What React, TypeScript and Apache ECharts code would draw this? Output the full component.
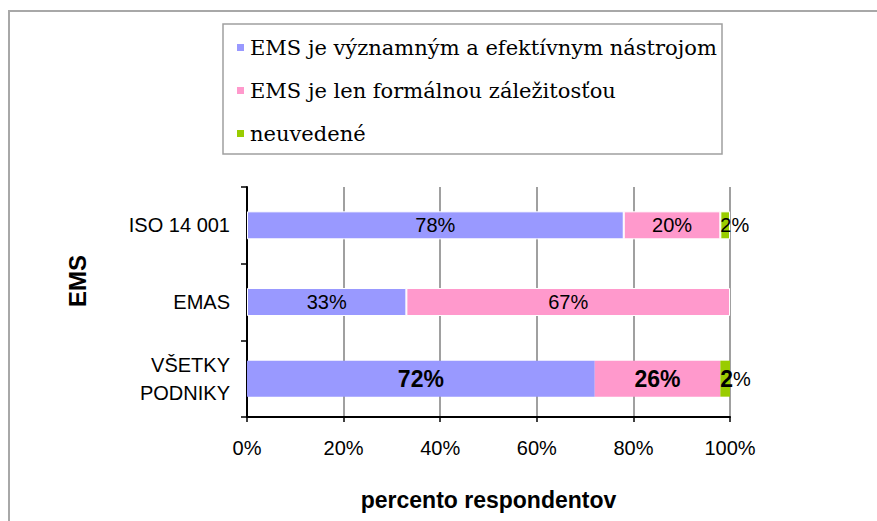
import React, { useEffect, useRef } from 'react';
import * as echarts from 'echarts';

const categories = ['ISO 14 001', 'EMAS', 'VŠETKY\nPODNIKY'];
const seriesNames = [
  'EMS je významným a efektívnym nástrojom',
  'EMS je len formálnou záležitosťou',
  'neuvedené',
];
const effective = [78, 33, 72];
const formal = [20, 67, 26];
const unspecified = [2, 0, 2];
const xTicks = [0, 20, 40, 60, 80, 100];
const axisTitleX = 'percento respondentov';
const axisTitleY = 'EMS';

const colors = ['#9999ff', '#ff99cc', '#99cc00'];
const BIG_ROW = 2;
const SANS = '"Liberation Sans", Arial, sans-serif';

export default function App() {
  const ref = useRef<HTMLDivElement>(null);

  useEffect(() => {
    if (!ref.current) return;
    const chart = echarts.init(ref.current, undefined, { renderer: 'svg' });
    const valuesBySeries = [effective, formal, unspecified];

    const series: any[] = [];
    valuesBySeries.forEach((vals, i) => {
      const isGreen = i === 2;
      series.push({
        name: seriesNames[i],
        type: 'bar',
        stack: 'main',
        yAxisIndex: 0,
        barWidth: 28,
        data: vals.map((v, r) => (r === BIG_ROW || v === 0 ? '-' : v)),
        itemStyle: { color: colors[i], borderColor: '#ffffff', borderWidth: 1 },
        label: {
          show: true,
          position: isGreen ? 'insideLeft' : 'inside',
          distance: 0,
          formatter: '{c}%',
          color: '#000',
          fontFamily: SANS,
          fontSize: 20,
        },
      });
      series.push({
        name: seriesNames[i],
        type: 'bar',
        stack: 'big',
        yAxisIndex: 1,
        barWidth: 36,
        data: vals.map((v, r) => (r !== BIG_ROW || v === 0 ? '-' : v)),
        itemStyle: { color: colors[i] },
        label: {
          show: true,
          position: isGreen ? 'insideLeft' : 'inside',
          distance: 0,
          formatter: isGreen
            ? (p: any) => `{b|${p.value}}{n|%}`
            : '{c}%',
          color: '#000',
          fontFamily: SANS,
          fontSize: 23,
          fontWeight: 'bold',
          rich: {
            b: { fontFamily: SANS, fontSize: 23, fontWeight: 'bold', color: '#000' },
            n: { fontFamily: SANS, fontSize: 20, fontWeight: 'normal', color: '#000' },
          },
        },
      });
    });

    chart.setOption({
      animation: false,
      backgroundColor: '#fff',
      legend: {
        data: seriesNames,
        orient: 'vertical',
        left: 235,
        top: 37,
        padding: 0,
        itemWidth: 9,
        itemHeight: 9,
        itemGap: 22,
        icon: 'rect',
        selectedMode: false,
        textStyle: {
          fontFamily: '"DejaVu Serif", serif',
          fontSize: 21,
          lineHeight: 20,
          color: '#000',
        },
      },
      grid: { left: 247, right: 147, top: 187, bottom: 104, containLabel: false },
      xAxis: {
        type: 'value',
        min: xTicks[0],
        max: xTicks[xTicks.length - 1],
        interval: xTicks[1] - xTicks[0],
        axisLine: { show: true, lineStyle: { color: '#000', width: 2 } },
        axisTick: { show: true, length: 5, lineStyle: { color: '#000', width: 1.5 } },
        axisLabel: {
          formatter: '{value}%',
          color: '#000',
          fontFamily: SANS,
          fontSize: 20,
          margin: 21,
        },
        splitLine: { show: true, lineStyle: { color: '#a0a0a0', width: 2 } },
        name: axisTitleX,
        nameLocation: 'middle',
        nameGap: 71,
        nameTextStyle: {
          color: '#000',
          fontFamily: SANS,
          fontSize: 23,
          fontWeight: 'bold',
        },
      },
      yAxis: [
        {
          type: 'category',
          data: categories,
          inverse: true,
          axisLine: { show: true, lineStyle: { color: '#000', width: 2 } },
          axisTick: { show: true, length: 6, lineStyle: { color: '#000', width: 1.5 } },
          axisLabel: {
            color: '#000',
            fontFamily: SANS,
            fontSize: 20,
            lineHeight: 28,
            margin: 17,
            align: 'right',
          },
          splitLine: { show: false },
        },
        {
          type: 'category',
          data: categories,
          inverse: true,
          show: false,
        },
      ],
      graphic: [
        {
          type: 'rect',
          shape: { x: 9, y: 11, width: 900, height: 600 },
          style: { fill: 'none', stroke: '#a8a8a8', lineWidth: 2 },
          silent: true,
        },
        {
          type: 'rect',
          shape: { x: 223, y: 24, width: 499, height: 130 },
          style: { fill: 'none', stroke: '#a0a0a0', lineWidth: 1.5 },
          silent: true,
        },
        {
          type: 'text',
          x: 77,
          y: 281,
          rotation: Math.PI / 2,
          style: {
            text: axisTitleY,
            fontFamily: SANS,
            fontSize: 24,
            fontWeight: 'bold',
            fill: '#000',
            align: 'center',
            verticalAlign: 'middle',
          },
          silent: true,
        },
      ],
      series,
    });

    return () => chart.dispose();
  }, []);

  return (
    <div
      ref={ref}
      style={{ position: 'fixed', left: 0, top: 0, width: 877, height: 521 }}
    />
  );
}
